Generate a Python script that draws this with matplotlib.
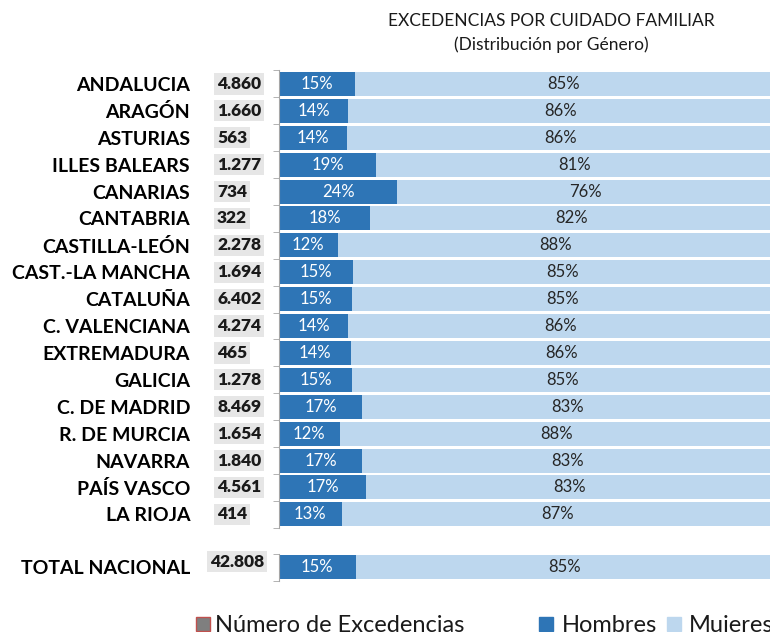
import numpy as np
import matplotlib
matplotlib.use("Agg")
import matplotlib.pyplot as plt
import matplotlib.transforms as mtrans
from matplotlib.patches import Rectangle

plt.rcParams['font.family'] = ['Lato', 'DejaVu Sans']

# datos
regiones = ["ANDALUCIA", "ARAGÓN", "ASTURIAS", "ILLES BALEARS", "CANARIAS",
            "CANTABRIA", "CASTILLA-LEÓN", "CAST.-LA MANCHA", "CATALUÑA",
            "C. VALENCIANA", "EXTREMADURA", "GALICIA", "C. DE MADRID",
            "R. DE MURCIA", "NAVARRA", "PAÍS VASCO", "LA RIOJA"]
excedencias = ["4.860", "1.660", "563", "1.277", "734", "322", "2.278", "1.694",
               "6.402", "4.274", "465", "1.278", "8.469", "1.654", "1.840",
               "4.561", "414"]
hombres = [15.4, 14.0, 13.8, 19.6, 23.9, 18.4, 11.9, 15.0, 14.8, 14.0, 14.5,
           14.8, 16.9, 12.3, 16.8, 17.6, 12.7]
hombres_lbl = [15, 14, 14, 19, 24, 18, 12, 15, 15, 14, 14, 15, 17, 12, 17, 17, 13]
mujeres_lbl = [85, 86, 86, 81, 76, 82, 88, 85, 85, 86, 86, 85, 83, 88, 83, 83, 87]

total_nombre = ["TOTAL NACIONAL"]
total_exc = ["42.808"]
total_h = [15.5]
total_h_lbl = [15]
total_m_lbl = [85]

C_H = "#2E75B6"
C_M = "#BDD7EE"
C_AX = "#A6A6A6"

W, H = 770, 632
fig = plt.figure(figsize=(W / 100, H / 100), dpi=100)


def fy(py):
    return 1 - py / H


row = 26.9
top = 70.5
ax1 = fig.add_axes([279 / W, fy(top + 17 * row), 494 / W, 17 * row / H])
ax2 = fig.add_axes([279 / W, fy(580.5), 494 / W, row / H])


def draw(ax, names, counts, h, hl, ml, dy=0.0):
    n = len(names)
    y = np.arange(n)
    h = np.array(h)
    m = 100 - h
    ax.barh(y, h, height=0.89, color=C_H)
    ax.barh(y, m, left=h, height=0.89, color=C_M)
    ax.set_xlim(0, 100)
    ax.set_ylim(n - 0.5, -0.5)
    for s in ["top", "right", "bottom"]:
        ax.spines[s].set_visible(False)
    ax.spines["left"].set_color(C_AX)
    ax.set_xticks([])
    ax.set_yticks(y, names)
    ax.set_yticks(np.arange(-0.5, n), minor=True)
    ax.tick_params(axis="y", which="major", length=0, pad=64, labelsize=14)
    ax.tick_params(axis="y", which="minor", length=4, color=C_AX)
    for t in ax.get_yticklabels():
        t.set_fontweight("bold")
    trans = mtrans.blended_transform_factory(fig.transFigure, ax.transData)
    for i in range(n):
        ax.text(h[i] / 2, i, f"{hl[i]}%", color="white", ha="center",
                va="center", fontsize=12)
        ax.text(h[i] + m[i] / 2, i, f"{ml[i]}%", color="#262626",
                ha="center", va="center", fontsize=12)
        ax.text(217 / W if len(counts[i]) < 6 else 210 / W, i + dy, counts[i],
                transform=trans, ha="left", va="center", fontsize=12.5,
                fontweight="heavy", color="#1a1a1a",
                bbox=dict(boxstyle="square,pad=0.15", fc="#E6E6E6", ec="none"))


draw(ax1, regiones, excedencias, hombres, hombres_lbl, mujeres_lbl)
draw(ax2, total_nombre, total_exc, total_h, total_h_lbl, total_m_lbl, dy=-0.2)

fig.text(551 / W, fy(21), "EXCEDENCIAS POR CUIDADO FAMILIAR", ha="center",
         va="center", fontsize=12.5, color="#1a1a1a")
fig.text(551 / W, fy(45), "(Distribución por Género)", ha="center",
         va="center", fontsize=12.5, color="#1a1a1a")

# leyenda (cortada por el borde inferior, como en el original)
leyenda = [("Número de Excedencias", "#7F7F7F", "#C0504D", 196, 215),
           ("Hombres", C_H, C_H, 539, 562),
           ("Mujeres", C_M, C_M, 667, 689)]
for txt, fc, ec, xs, xt in leyenda:
    fig.add_artist(Rectangle((xs / W, fy(631)), 14 / W, 14 / H,
                             transform=fig.transFigure, fc=fc, ec=ec, lw=1))
    fig.text(xt / W, fy(632), txt, ha="left", va="baseline", fontsize=17,
             color="#1a1a1a")

fig.savefig("out.png", dpi=100)
